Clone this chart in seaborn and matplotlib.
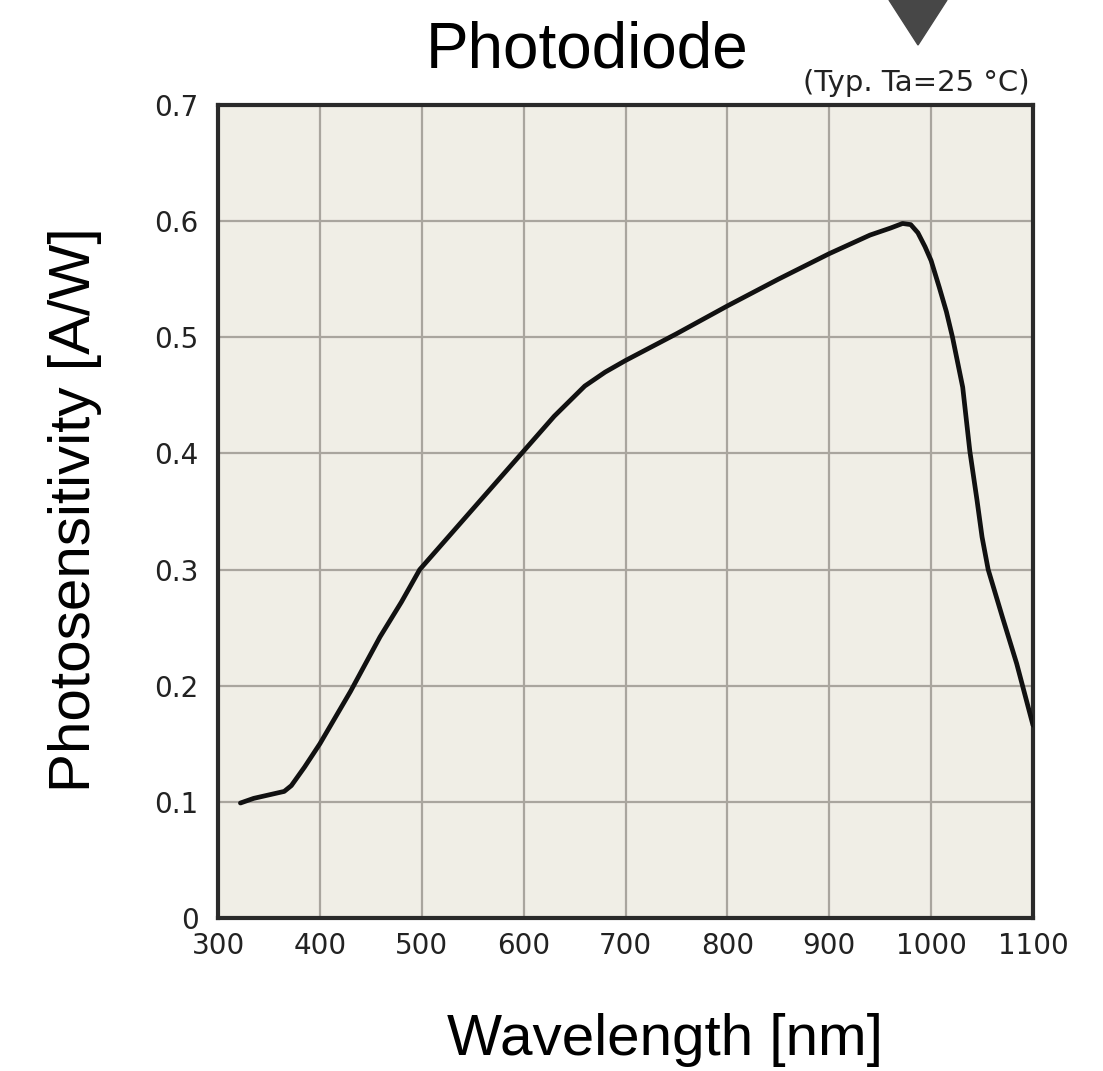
import numpy as np
import pandas as pd
import seaborn as sns
from matplotlib import pyplot as plt
from matplotlib.patches import Polygon

# spectral response
wavelength = [322, 335, 350, 365, 372, 385, 400, 430, 459, 480, 498, 530, 560, 600,
              630, 660, 680, 700, 750, 800, 850, 900, 940, 960, 972, 980, 987, 994,
              1000, 1008, 1015, 1021, 1031, 1038, 1045, 1050, 1056, 1070, 1084, 1100]
sensitivity = [0.099, 0.103, 0.106, 0.109, 0.114, 0.130, 0.150, 0.195, 0.242, 0.272,
               0.300, 0.332, 0.362, 0.402, 0.432, 0.458, 0.470, 0.480, 0.503, 0.527,
               0.550, 0.572, 0.588, 0.594, 0.598, 0.597, 0.590, 0.578, 0.566, 0.543,
               0.522, 0.500, 0.457, 0.402, 0.360, 0.328, 0.300, 0.259, 0.219, 0.166]
x_ticks = [300, 400, 500, 600, 700, 800, 900, 1000, 1100]
y_ticks = [0, 0.1, 0.2, 0.3, 0.4, 0.5, 0.6, 0.7]
y_tick_labels = ["0", "0.1", "0.2", "0.3", "0.4", "0.5", "0.6", "0.7"]

df = pd.DataFrame({"wavelength": wavelength, "sensitivity": sensitivity})

sns.set_style("white")
plt.rcParams['font.family'] = ['DejaVu Sans']

W, H = 1103, 1071
fig = plt.figure(figsize=(W / 100, H / 100), dpi=100)
ax = fig.add_axes([218 / W, 1 - 918 / H, (1033 - 218) / W, (918 - 105) / H])
ax.set_facecolor("#f0eee6")

sns.lineplot(data=df, x="wavelength", y="sensitivity", ax=ax, color="#111111",
             linewidth=3.4, zorder=3)

ax.set_xlim(300, 1100)
ax.set_ylim(0, 0.7)
ax.set_xticks(x_ticks)
ax.set_yticks(y_ticks)
ax.set_yticklabels(y_tick_labels)
ax.grid(True, color="#a9a59e", linewidth=1.6)
ax.set_axisbelow(True)
ax.tick_params(length=0, labelsize=20, colors="#222222")
ax.tick_params(axis="x", pad=10)
ax.tick_params(axis="y", pad=14)
for s in ax.spines.values():
    s.set_color("#2a2a2a")
    s.set_linewidth(3)
ax.set_xlabel("")
ax.set_ylabel("")

# labels and title placed like the original picture
fig.text(587 / W, 1 - 68 / H, "Photodiode", ha="center", va="baseline",
         fontsize=46, family="Liberation Sans", color="black")
fig.text(1030 / W, 1 - 91 / H, "(Typ. Ta=25 \u00b0C)", ha="right", va="baseline",
         fontsize=21, color="#222222")
fig.text(665 / W, 1 - 1040 / H, "Wavelength [nm]", ha="center", va="center",
         fontsize=42, family="Liberation Sans", color="black")
fig.text(75 / W, 1 - 510 / H, "Photosensitivity [A/W]", ha="center", va="center",
         rotation=90, fontsize=42, family="Liberation Sans", color="black")

# dark marker triangle at the top
tri = Polygon([[889 / W, 1.0], [947 / W, 1.0], [918 / W, 1 - 45 / H]],
              closed=True, transform=fig.transFigure, color="#474747")
fig.patches.append(tri)

fig.savefig("out.png", dpi=100, facecolor="white")
